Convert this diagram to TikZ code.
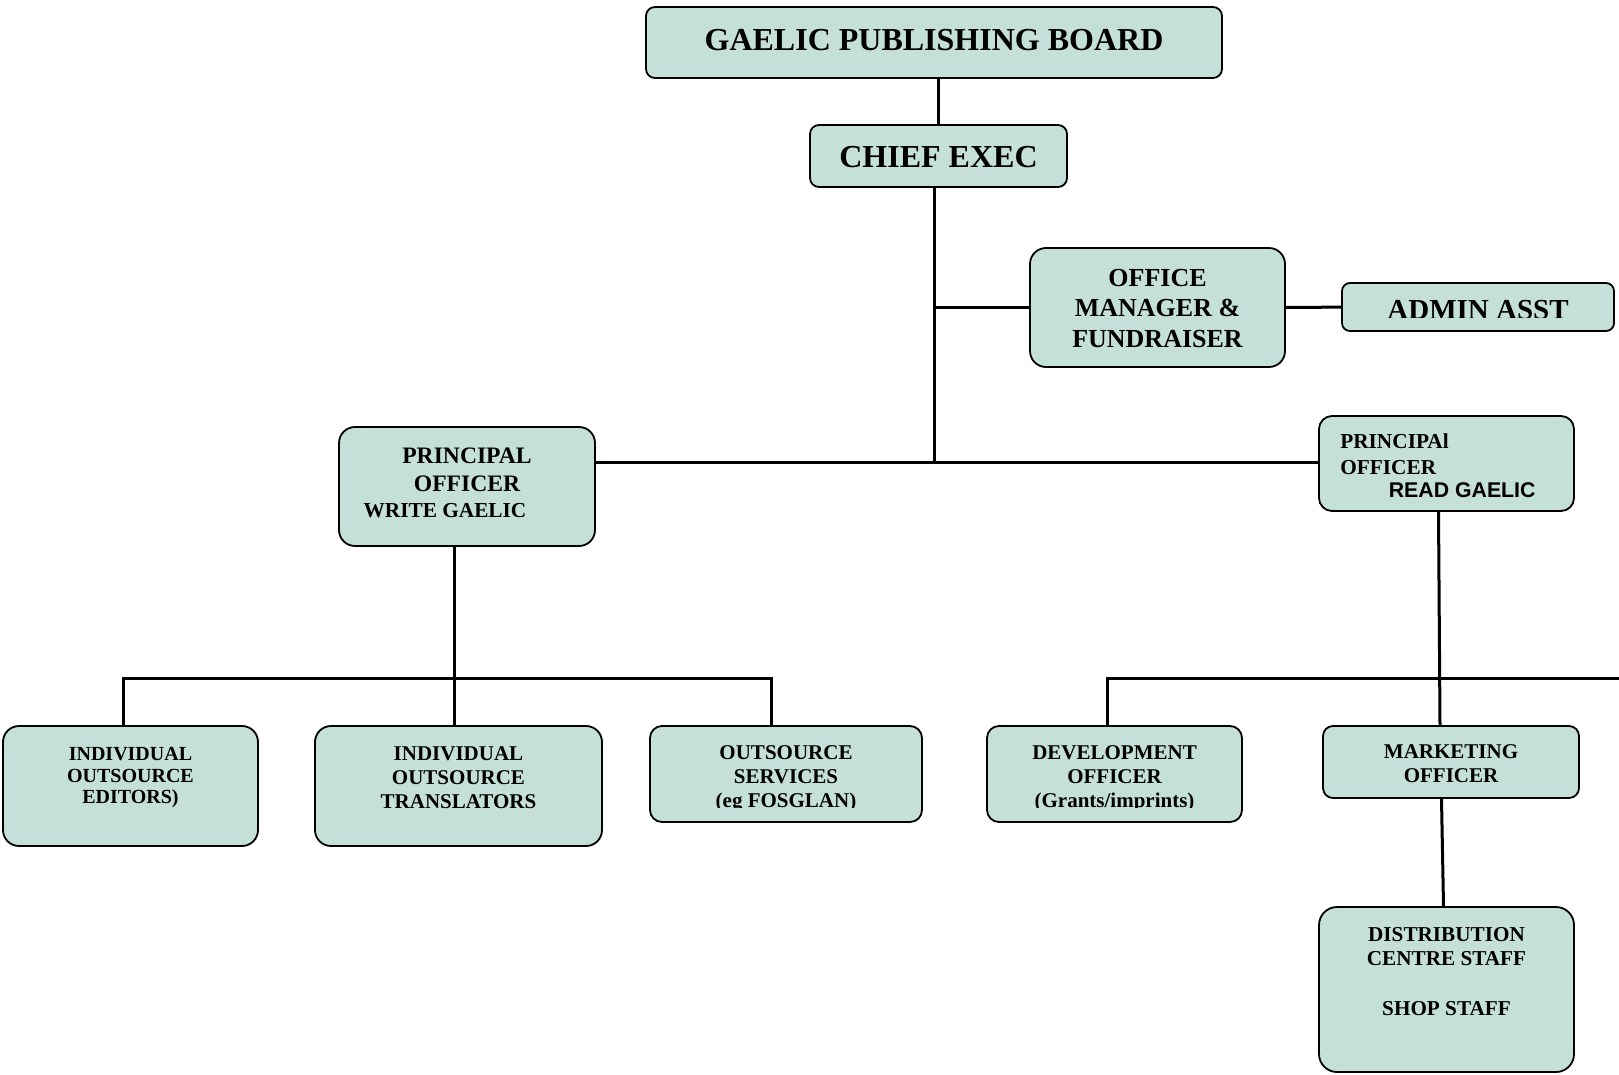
\documentclass[tikz,border=0pt]{standalone}
\usepackage{fontspec}
\setmainfont{Liberation Serif}
\newfontfamily\arialfont{Liberation Sans}
\usetikzlibrary{positioning}
\definecolor{boxfill}{RGB}{197,224,216}
\tikzset{unit/.style={draw,line width=1.8pt,fill=boxfill,rounded corners=14pt,inner sep=0pt},
  role/.style={inner sep=0pt,align=center},
  link/.style={line width=3pt}}

\begin{document}
\begin{tikzpicture}[x=1pt,y=-1pt]
    \useasboundingbox (0,0) rectangle (1619,1074);
    %boxes
    \node (gpb) at (934,42.5) [unit,rounded corners=9pt,minimum width=576pt,minimum height=71pt] {};
    \node (ce) at (938.5,156) [unit,rounded corners=9pt,minimum width=257pt,minimum height=62pt] {};
    \node (om) at (1157.5,307.5) [unit,rounded corners=16pt,minimum width=255pt,minimum height=119pt] {};
    \node (adm) at (1478,307) [unit,rounded corners=8pt,minimum width=272pt,minimum height=48pt] {};
    \node (pw) at (467,486.5) [unit,rounded corners=16pt,minimum width=256pt,minimum height=119pt] {};
    \node (pr) at (1446.5,463.5) [unit,rounded corners=13pt,minimum width=255pt,minimum height=95pt] {};
    \node (ed) at (130.5,786) [unit,rounded corners=16pt,minimum width=255pt,minimum height=120pt] {};
    \node (tr) at (458.5,786) [unit,rounded corners=16pt,minimum width=287pt,minimum height=120pt] {};
    \node (os) at (786,774) [unit,rounded corners=12pt,minimum width=272pt,minimum height=96pt] {};
    \node (dv) at (1114.5,774) [unit,rounded corners=12pt,minimum width=255pt,minimum height=96pt] {};
    \node (mk) at (1451,762) [unit,rounded corners=10pt,minimum width=256pt,minimum height=72pt] {};
    \node (ds) at (1446.5,989.5) [unit,rounded corners=18pt,minimum width=255pt,minimum height=165pt] {};

    %texts
    \node (gpbT) at (934,40.5) [role,font=\bfseries\fontsize{32}{38}\selectfont] {GAELIC PUBLISHING BOARD};
    \node (ceT) at (938.5,157.5) [role,font=\bfseries\fontsize{32}{38}\selectfont] {CHIEF EXEC};
    \node (omT) [role,font=\bfseries\fontsize{26}{30.5}\selectfont,below=21.5pt of om.north] {OFFICE\\MANAGER \&\\FUNDRAISER};
    \begin{scope}
      \clip (1342,283) rectangle (1614,317.5);
      \node (admT) [role,font=\bfseries\fontsize{29}{34}\selectfont,below=18pt of adm.north] {ADMIN ASST};
    \end{scope}
    \node (pwT) [role,font=\bfseries\fontsize{23.6}{28}\selectfont,below=22pt of pw.north] {PRINCIPAL\\OFFICER\\[-2pt]{\fontsize{21.3}{26}\selectfont WRITE GAELIC\hspace*{44pt}}};
    \node (prT) [role,align=left,font=\bfseries\fontsize{21.3}{26}\selectfont,below right=18pt and 22pt of pr.north west] {PRINCIPAl\\OFFICER\\[-3pt]\hspace*{48.5pt}{\arialfont READ GAELIC}};
    \node (edT) [role,font=\bfseries\fontsize{20}{21.7}\selectfont,below=22pt of ed.north] {INDIVIDUAL\\OUTSOURCE\\EDITORS)};
    \node (trT) [role,font=\bfseries\fontsize{21}{24}\selectfont,below=21.5pt of tr.north] {INDIVIDUAL\\OUTSOURCE\\TRANSLATORS};
    \begin{scope}
      \clip (650,726) rectangle (922,807);
      \node (osT) [role,font=\bfseries\fontsize{21}{24}\selectfont,below=20.5pt of os.north] {OUTSOURCE\\SERVICES\\(eg FOSGLAN)};
    \end{scope}
    \begin{scope}
      \clip (987,726) rectangle (1242,807);
      \node (dvT) [role,font=\bfseries\fontsize{21}{24}\selectfont,below=20.5pt of dv.north] {DEVELOPMENT\\OFFICER\\(Grants/imprints)};
    \end{scope}
    \node (mkT) [role,font=\bfseries\fontsize{21}{24}\selectfont,below=19.5pt of mk.north] {MARKETING\\OFFICER};
    \node (dsT) [role,font=\bfseries\fontsize{21.2}{24}\selectfont,below=21.5pt of ds.north] {DISTRIBUTION\\CENTRE STAFF\\[26pt]SHOP STAFF};

    %links
    \coordinate (hub) at (934,462);
    \coordinate (lbar) at (454,678);
    \coordinate (edtap) at (123,678);
    \coordinate (ostap) at (771,678);
    \coordinate (dvtap) at (1107,678);
    \coordinate (rend) at (1619,678);
    \draw [link] (ce.north) -- (ce.north |- gpb.south);
    \draw [link] ([xshift=-4.5pt]ce.south) -- (hub);
    \draw [link] (om.west) -- (hub |- om.west);
    \draw [link] (om) -- (adm);
    \draw [link] (pw.east |- hub) -- (pr.west |- hub);
    \draw [link] (lbar |- pw.south) -- (lbar |- tr.north);
    \draw [link] (edtap |- ed.north) -- (edtap) -- (ostap) -- (ostap |- os.north);
    \draw [link] (dvtap |- dv.north) -- (dvtap) -- (rend);
    \draw [link] ([xshift=-8pt]pr.south) -- ([xshift=-11pt]mk.north);
    \draw [link] ([xshift=-9.5pt]mk.south) -- ([xshift=-3pt]ds.north);
\end{tikzpicture}
\end{document}
